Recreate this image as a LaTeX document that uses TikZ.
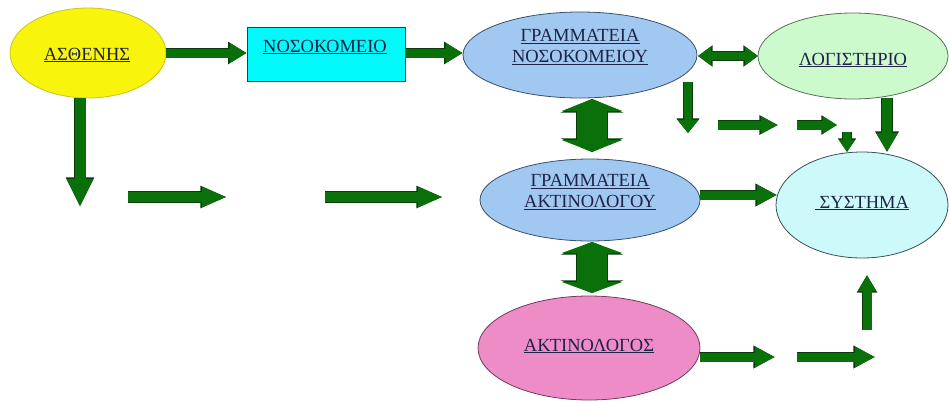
\documentclass[tikz,border=0pt]{standalone}
\usepackage{fontspec}
\setmainfont{Liberation Serif}
\usetikzlibrary{arrows.meta,shapes.geometric}

\definecolor{patientfill}{RGB}{248,244,12}
\definecolor{patientline}{RGB}{200,196,30}
\definecolor{hospfill}{RGB}{0,250,250}
\definecolor{hospline}{RGB}{30,70,70}
\definecolor{secfill}{RGB}{160,200,240}
\definecolor{secline}{RGB}{60,80,110}
\definecolor{accfill}{RGB}{204,250,204}
\definecolor{accline}{RGB}{90,110,90}
\definecolor{sysfill}{RGB}{204,250,250}
\definecolor{sysline}{RGB}{60,80,80}
\definecolor{radfill}{RGB}{238,140,200}
\definecolor{radline}{RGB}{110,60,90}
\definecolor{flowgreen}{RGB}{10,112,10}
\definecolor{flowdark}{RGB}{8,60,8}
\definecolor{labelink}{RGB}{30,36,70}

\tikzset{
  blob/.style={ellipse, draw, line width=0.8pt, inner sep=0pt},
  caption/.style={font=\fontsize{18.5}{21}\selectfont, text=labelink, align=center, inner sep=0pt},
  % block arrow: shaft width, head width, head length
  flow/.style n args={3}{
    draw=flowgreen, line width=#1,
    -{Triangle[length=#3,width=#2]},
    preaction={draw=flowdark, line width=#1+1.4pt,
      -{Triangle[length=#3+1.6pt,width=#2+2.4pt]}}},
  twoway/.style n args={3}{
    draw=flowgreen, line width=#1,
    {Triangle[length=#3,width=#2]}-{Triangle[length=#3,width=#2]},
    preaction={draw=flowdark, line width=#1+1.4pt,
      {Triangle[length=#3+1.6pt,width=#2+2.4pt]}-{Triangle[length=#3+1.6pt,width=#2+2.4pt]}}}
}

\begin{document}
\begin{tikzpicture}[x=1pt,y=-1pt]
  \path[use as bounding box] (0,0) rectangle (949,402);

  % boxes and ellipses
  \node[blob, fill=patientfill, draw=patientline, minimum width=156pt, minimum height=90pt] (ast) at (88,53) {};
  \node[rectangle, draw=hospline, fill=hospfill, line width=0.8pt, minimum width=158pt, minimum height=54pt, inner sep=0pt] (nos) at (326,54) {};
  \node[blob, fill=secfill, draw=secline, minimum width=234pt, minimum height=86pt] (gn) at (580,55) {};
  \node[blob, fill=accfill, draw=accline, minimum width=190pt, minimum height=86pt] (log) at (853,56) {};
  \node[blob, fill=secfill, draw=secline, minimum width=220pt, minimum height=82pt] (ga) at (590,200) {};
  \node[blob, fill=sysfill, draw=sysline, minimum width=172pt, minimum height=106pt] (sys) at (862,205) {};
  \node[blob, fill=radfill, draw=radline, minimum width=222pt, minimum height=104pt] (akt) at (589,348) {};

  % labels
  \node[caption] (ast-t) at (87,55) {\underline{ΑΣΘΕΝΗΣ}};
  \node[caption] (nos-t) at (325,47) {\underline{ΝΟΣΟΚΟΜΕΙΟ}};
  \node[caption] (gn-t) at (580,47) {\underline{ΓΡΑΜΜΑΤΕΙΑ}\\\underline{ΝΟΣΟΚΟΜΕΙΟΥ}};
  \node[caption] (log-t) at (853,60) {\underline{ΛΟΓΙΣΤΗΡΙΟ}};
  \node[caption] (ga-t) at (590,192) {\underline{ΓΡΑΜΜΑΤΕΙΑ}\\\underline{ΑΚΤΙΝΟΛΟΓΟΥ}};
  \node[caption] (sys-t) at (862,203) {\underline{\ ΣΥΣΤΗΜΑ}};
  \node[caption] (akt-t) at (589,346) {\underline{ΑΚΤΙΝΟΛΟΓΟΣ}};

  % free arrow ends
  \coordinate (pd0) at (80,98);   \coordinate (pd1) at (80,207);
  \coordinate (pa0) at (128,197); \coordinate (pa1) at (227,197);
  \coordinate (pb0) at (325,197); \coordinate (pb1) at (443,197);
  \coordinate (gd0) at (688,82);  \coordinate (gd1) at (688,133);
  \coordinate (ra0) at (718,125); \coordinate (ra1) at (778,125);
  \coordinate (rb0) at (797,125); \coordinate (rb1) at (837,125);
  \coordinate (sd0) at (847,132); \coordinate (sd1) at (847,152);
  \coordinate (ld0) at (887,98);  \coordinate (ld1) at (887,152);
  \coordinate (gs0) at (700,195); \coordinate (gs1) at (777,195);
  \coordinate (ka0) at (700,357); \coordinate (ka1) at (775,357);
  \coordinate (kb0) at (797,357); \coordinate (kb1) at (875,357);
  \coordinate (ku0) at (867,330); \coordinate (ku1) at (867,275);
  \coordinate (gl0) at (698,56);  \coordinate (gl1) at (758,56);
  \coordinate (vg0) at (592,99);  \coordinate (vg1) at (592,152);
  \coordinate (vk0) at (592,242); \coordinate (vk1) at (592,293);

  % connectors
  \draw[flow={9pt}{19pt}{17pt}] (ast.east) -- (ast.east -| nos.west);
  \draw[flow={9pt}{19pt}{17pt}] (nos.east |- ast.east) -- (gn.west |- ast.east);
  \draw[twoway={8pt}{18pt}{13pt}] (gl0) -- (gl1);
  \draw[twoway={30pt}{60pt}{12pt}] (vg0) -- (vg1);
  \draw[twoway={30pt}{60pt}{11pt}] (vk0) -- (vk1);

  \draw[flow={11pt}{24pt}{28pt}] (pd0) -- (pd1);
  \draw[flow={10pt}{18pt}{25pt}] (pa0) -- (pa1);
  \draw[flow={10pt}{18pt}{25pt}] (pb0) -- (pb1);

  \draw[flow={8pt}{20pt}{13pt}] (gd0) -- (gd1);
  \draw[flow={9pt}{16pt}{17pt}] (ra0) -- (ra1);
  \draw[flow={9pt}{16pt}{14pt}] (rb0) -- (rb1);
  \draw[flow={8pt}{15pt}{12pt}] (sd0) -- (sd1);
  \draw[flow={10pt}{20pt}{19pt}] (ld0) -- (ld1);

  \draw[flow={9pt}{19pt}{20pt}] (gs0) -- (gs1);
  \draw[flow={9pt}{19pt}{20pt}] (ka0) -- (ka1);
  \draw[flow={9pt}{19pt}{20pt}] (kb0) -- (kb1);
  \draw[flow={9pt}{17pt}{16pt}] (ku0) -- (ku1);
\end{tikzpicture}
\end{document}
